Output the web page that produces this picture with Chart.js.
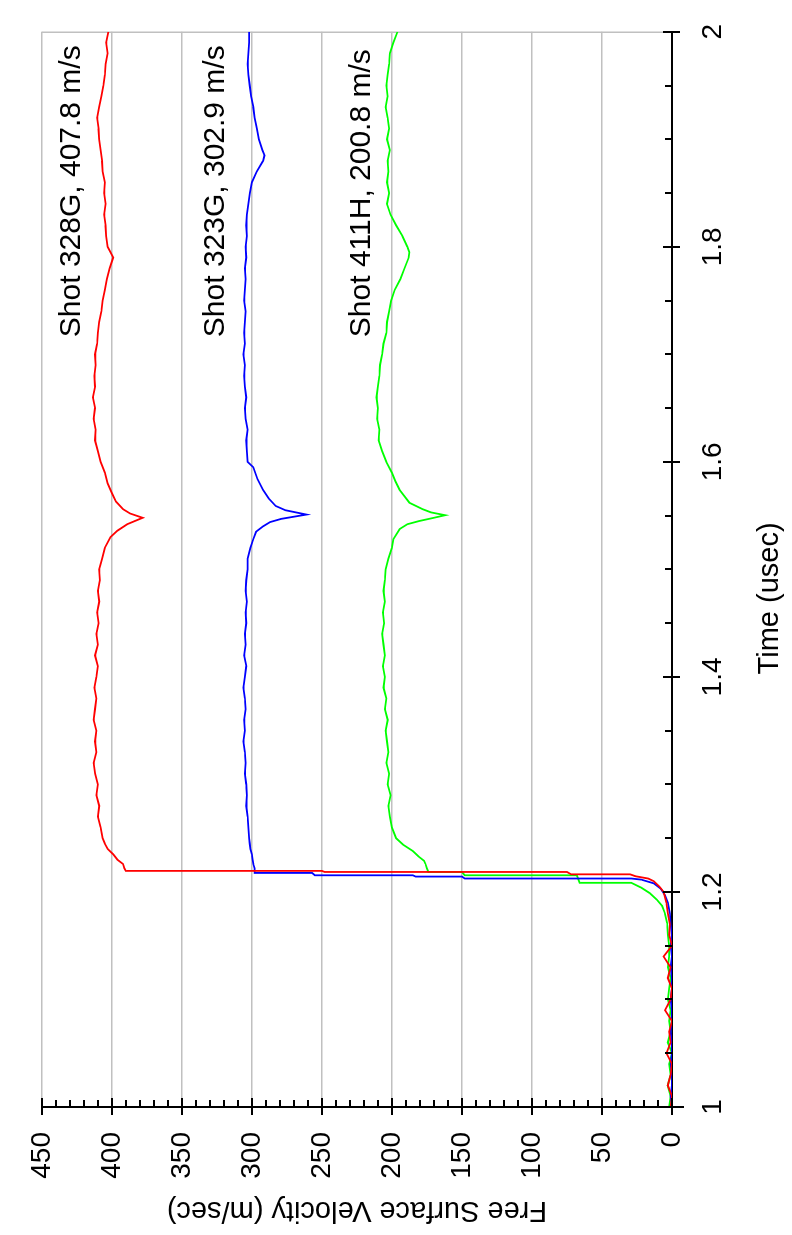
<!DOCTYPE html>
<html>
<head>
<meta charset="utf-8">
<script src="https://cdn.jsdelivr.net/npm/chart.js@4.4.0/dist/chart.umd.min.js"></script>
<style>
  html, body { margin: 0; padding: 0; background: #fff; }
  body { width: 792px; height: 1235px; overflow: hidden; position: relative; }
  /* the chart is drawn landscape and turned a quarter turn to the left */
  #wrap {
    position: absolute; left: 0; top: 0;
    width: 1235px; height: 792px;
    transform-origin: 0 0;
    transform: translateY(1235px) rotate(-90deg);
  }
</style>
</head>
<body>
<div id="wrap"><canvas id="velocityChart" width="1235" height="792"></canvas></div>
<script>
// axis ticks
const timeTicks = [1, 1.2, 1.4, 1.6, 1.8, 2];
const timeTickLabels = ['1', '1.2', '1.4', '1.6', '1.8', '2'];
const velocityTicks = [0, 50, 100, 150, 200, 250, 300, 350, 400, 450];

// Shot 328G (red)
const redTime = [
  1.00, 1.01, 1.02, 1.03, 1.04, 1.05, 1.06, 1.07, 1.08, 1.09, 1.10, 1.11, 1.12, 1.13, 1.14, 1.15, 1.16,
  1.17, 1.18, 1.19, 1.20, 1.205, 1.21, 1.2125, 1.2146, 1.2164, 1.2164, 1.2186, 1.2186, 1.2196, 1.2196,
  1.222, 1.226, 1.23, 1.235, 1.24, 1.245,
  1.25, 1.26, 1.27, 1.28, 1.29, 1.30, 1.31, 1.32, 1.33, 1.34, 1.35, 1.36, 1.37, 1.38,
  1.39, 1.40, 1.41, 1.42, 1.43, 1.44, 1.45, 1.46, 1.47, 1.48, 1.49, 1.50, 1.51, 1.52,
  1.53, 1.536, 1.542, 1.548, 1.552, 1.556, 1.563, 1.571, 1.58,
  1.59, 1.60, 1.61, 1.62, 1.63, 1.64, 1.65, 1.66, 1.67, 1.68, 1.69, 1.70, 1.71, 1.72,
  1.73, 1.74, 1.75, 1.76, 1.77, 1.78, 1.79, 1.80, 1.81, 1.82, 1.83, 1.84, 1.85, 1.86,
  1.87, 1.88, 1.89, 1.90, 1.91, 1.92, 1.93, 1.94, 1.95, 1.96, 1.97, 1.98, 1.99, 2.00
];
const redVel = [
  1, 0, 3, 1, 0, 4, 1, 2, 0, 5, 1, 0, 3, 1, 6, 0, 2,
  1.5, 3, 4, 6, 9, 13, 17, 26, 30, 72, 75, 248, 250, 390,
  391, 392, 396, 399, 403, 405,
  406.5, 408, 410, 409, 411, 410, 412, 413, 411, 412, 411, 413, 412, 411,
  412.5, 411, 410, 412, 410, 411, 409.5, 410.5, 409, 410, 408.5, 409, 407, 405,
  401, 396, 389, 378, 387, 392, 397, 400, 403,
  405, 408, 410, 412, 411.5, 413, 412, 413.5, 412, 412.5, 411.5, 412, 410.5, 410,
  409, 407.5, 406.5, 405, 403.5, 401.5, 399, 403, 404, 404.5, 405.5, 404.5, 405.5, 405,
  406.5, 407, 408, 409, 409.5, 410.5, 409, 407.5, 406, 405, 404.5, 403, 404, 402.5
];

// Shot 323G (blue)
const blueTime = [
  1.00, 1.01, 1.02, 1.03, 1.04, 1.05, 1.06, 1.07, 1.08, 1.09, 1.10, 1.11, 1.12, 1.13, 1.14, 1.15, 1.16, 1.17,
  1.18, 1.19, 1.197, 1.203, 1.208, 1.2115, 1.2125, 1.2125, 1.2143, 1.2143, 1.2155, 1.2155, 1.2177, 1.2177,
  1.222, 1.226, 1.23, 1.235, 1.24, 1.245,
  1.25, 1.26, 1.27, 1.28, 1.29, 1.30, 1.31, 1.32, 1.33, 1.34, 1.35, 1.36, 1.37, 1.38,
  1.39, 1.40, 1.41, 1.42, 1.43, 1.44, 1.45, 1.46, 1.47, 1.48, 1.49, 1.50, 1.51, 1.52,
  1.528, 1.535, 1.540, 1.544, 1.547, 1.551, 1.555, 1.559, 1.566, 1.574, 1.584, 1.595,
  1.60, 1.61, 1.62, 1.63, 1.64, 1.65, 1.66, 1.67, 1.68, 1.69, 1.70, 1.71, 1.72, 1.73, 1.74,
  1.75, 1.76, 1.77, 1.78, 1.79, 1.80, 1.81, 1.82, 1.83, 1.84, 1.85, 1.86, 1.87, 1.88, 1.885,
  1.89, 1.90, 1.91, 1.92, 1.93, 1.94, 1.95, 1.96, 1.97, 1.98, 1.99, 2.00
];
const blueVel = [
  0, 1, 0, 0, 1, 0, 0, 1, 0, 0, 1, 0, 0, 1, 0, 1, 0, 1,
  1.5, 3, 5, 8, 13, 22, 29, 148, 150, 183, 185, 255, 257, 298,
  298, 299, 299.5, 300, 301, 301.5,
  302, 302.5, 303, 304, 303.5, 304, 305, 304.5, 305, 306, 305, 305.5, 304.5, 305,
  306, 305, 304, 305.5, 304.5, 305, 304, 304.5, 303.5, 304.5, 304, 303, 303, 301,
  299, 297, 292, 287, 279, 261, 276, 283, 288, 292, 296, 299,
  303, 303.5, 304, 303, 304.5, 305, 304, 305, 305.5, 305, 306, 305, 305.5, 305, 304.5,
  305.5, 305, 304.5, 305, 304, 304.5, 303.5, 304, 303.5, 302.5, 301.5, 300, 296.5, 292, 291,
  292.5, 295, 296.5, 298, 299, 300.5, 301.5, 302.5, 303, 302.5, 302, 302
];

// Shot 411H (green)
const greenTime = [
  1.00, 1.01, 1.02, 1.03, 1.04, 1.05, 1.06, 1.07, 1.08, 1.09, 1.10, 1.11, 1.12, 1.13, 1.14, 1.15, 1.16,
  1.171, 1.18, 1.187, 1.193, 1.199, 1.204, 1.2085, 1.2085, 1.2155, 1.2155, 1.2186, 1.2186,
  1.222, 1.226, 1.229, 1.233, 1.238, 1.244,
  1.25, 1.26, 1.27, 1.28, 1.29, 1.30, 1.31, 1.32, 1.33, 1.34, 1.35, 1.36, 1.37, 1.38,
  1.39, 1.40, 1.41, 1.42, 1.43, 1.44, 1.45, 1.46, 1.47, 1.48, 1.49, 1.50, 1.51, 1.52,
  1.528, 1.5375, 1.542, 1.545, 1.548, 1.5504, 1.553, 1.556, 1.562, 1.568, 1.574, 1.582, 1.59,
  1.60, 1.61, 1.62, 1.63, 1.64, 1.65, 1.66, 1.67, 1.68, 1.69, 1.70, 1.71, 1.72, 1.73,
  1.74, 1.75, 1.76, 1.77, 1.78, 1.79, 1.795,
  1.80, 1.81, 1.82, 1.83, 1.84, 1.85, 1.86, 1.87, 1.88, 1.89, 1.90, 1.91, 1.92, 1.93,
  1.94, 1.95, 1.96, 1.97, 1.98, 1.99, 2.00
];
const greenVel = [
  2, 1, 3, 1, 2, 0, 3, 1, 2, 1, 3, 2, 1, 3, 2, 2, 3,
  3.5, 5, 7, 11, 16, 22, 29, 66, 68, 148, 150, 174,
  175, 176, 177, 181, 185, 192,
  197, 200, 201.5, 202.5, 201, 203, 202, 204, 202.5, 203.5, 204.5, 203, 205, 204,
  206, 205, 206.5, 205, 206, 207, 205.5, 206.5, 205, 206, 205, 204.5, 202.5, 200,
  199, 194.5, 189, 180.5, 170, 162, 172, 178, 187.5, 191, 194.5, 197.5, 200,
  204, 207, 209.5, 209, 210.5, 210, 211, 210, 209, 208.5, 207, 206, 204, 203.5,
  202, 200.5, 198, 194, 191, 188, 187.5,
  189, 192.5, 197, 201, 203.5, 202, 203.5, 202.5, 203, 201.5, 203.5, 202, 203, 204.5,
  203, 204, 203, 202, 201.5, 199, 196
];

const shotLabels = ['Shot 328G, 407.8 m/s', 'Shot 323G, 302.9 m/s', 'Shot 411H, 200.8 m/s'];

const FONT = "'Liberation Sans', Arial, Helvetica, sans-serif";
const gridGray = '#c0c0c0';

const toPoints = (times, vels) => times.map((t, i) => ({ x: t, y: vels[i] }));

// minor ticks, crossing major ticks, time title and the shot labels
const axisDecor = {
  id: 'axisDecor',
  afterDraw(chart) {
    const { ctx, chartArea: a, scales: { x, y } } = chart;
    ctx.save();
    ctx.strokeStyle = '#000';
    ctx.lineWidth = 2;
    ctx.beginPath();
    // time axis: minor every 0.05
    for (let i = 0; i <= 20; i++) {
      const px = Math.round(x.getPixelForValue(1 + i * 0.05));
      const major = i % 4 === 0;
      ctx.moveTo(px, a.bottom - (major ? 9 : 7));
      ctx.lineTo(px, a.bottom + (major ? 8 : 0));
    }
    // velocity axis: minor every 10
    for (let i = 0; i <= 45; i++) {
      const py = Math.round(y.getPixelForValue(i * 10));
      const major = i % 5 === 0;
      ctx.moveTo(a.left - (major ? 8 : 0), py);
      ctx.lineTo(a.left + (major ? 9 : 7), py);
    }
    // small overhang of the axis lines
    ctx.moveTo(a.left, a.bottom);
    ctx.lineTo(a.left, a.bottom + 12);
    ctx.moveTo(a.left - 4, a.bottom);
    ctx.lineTo(a.left, a.bottom);
    ctx.stroke();

    ctx.fillStyle = '#000';
    ctx.font = '29px ' + FONT;
    ctx.textAlign = 'center';
    ctx.textBaseline = 'alphabetic';
    ctx.fillText('Time (usec)', x.getPixelForValue(1.473), a.bottom + 106);

    ctx.font = '30px ' + FONT;
    ctx.textAlign = 'left';
    const anchors = [[1.716, 423], [1.716, 320], [1.716, 216]];
    shotLabels.forEach((txt, i) => {
      ctx.fillText(txt, x.getPixelForValue(anchors[i][0]), y.getPixelForValue(anchors[i][1]));
    });
    ctx.restore();
  }
};

new Chart(document.getElementById('velocityChart').getContext('2d'), {
  type: 'line',
  data: {
    datasets: [
      { label: 'Shot 328G', data: toPoints(redTime, redVel), borderColor: '#ff0000' },
      { label: 'Shot 323G', data: toPoints(blueTime, blueVel), borderColor: '#0000ff' },
      { label: 'Shot 411H', data: toPoints(greenTime, greenVel), borderColor: '#00ff00' }
    ]
  },
  options: {
    responsive: false,
    animation: false,
    devicePixelRatio: 1,
    layout: { padding: { top: 27, right: 15, left: 0, bottom: 0 } },
    elements: {
      point: { radius: 0 },
      line: { borderWidth: 1.8, tension: 0, fill: false }
    },
    plugins: { legend: { display: false }, tooltip: { enabled: false } },
    scales: {
      x: {
        type: 'linear',
        min: 1,
        max: 2,
        afterBuildTicks: (s) => { s.ticks = timeTicks.map(v => ({ value: v })); },
        afterFit: (s) => { s.height = 120; },
        ticks: {
          callback: (v, i) => timeTickLabels[i],
          font: { family: FONT, size: 28 },
          color: '#000',
          padding: 24,
          maxRotation: 0,
          autoSkip: false
        },
        grid: {
          drawTicks: false,
          lineWidth: 1.5,
          color: (c) => (c.tick && c.tick.value === 2 ? gridGray : 'rgba(0,0,0,0)')
        },
        border: { color: '#000', width: 2 },
        title: { display: false }
      },
      y: {
        min: 0,
        max: 450,
        afterBuildTicks: (s) => { s.ticks = velocityTicks.map(v => ({ value: v })); },
        afterFit: (s) => { s.width = 128; },
        ticks: {
          font: { family: FONT, size: 28 },
          color: '#000',
          padding: 25
        },
        grid: { drawTicks: false, lineWidth: 1.5, color: gridGray },
        border: { color: '#000', width: 2 },
        title: {
          display: true,
          text: 'Free Surface Velocity (m/sec)',
          font: { family: FONT, size: 29 },
          color: '#000',
          padding: { top: 8, bottom: 0 }
        }
      }
    }
  },
  plugins: [axisDecor]
});
</script>
</body>
</html>
